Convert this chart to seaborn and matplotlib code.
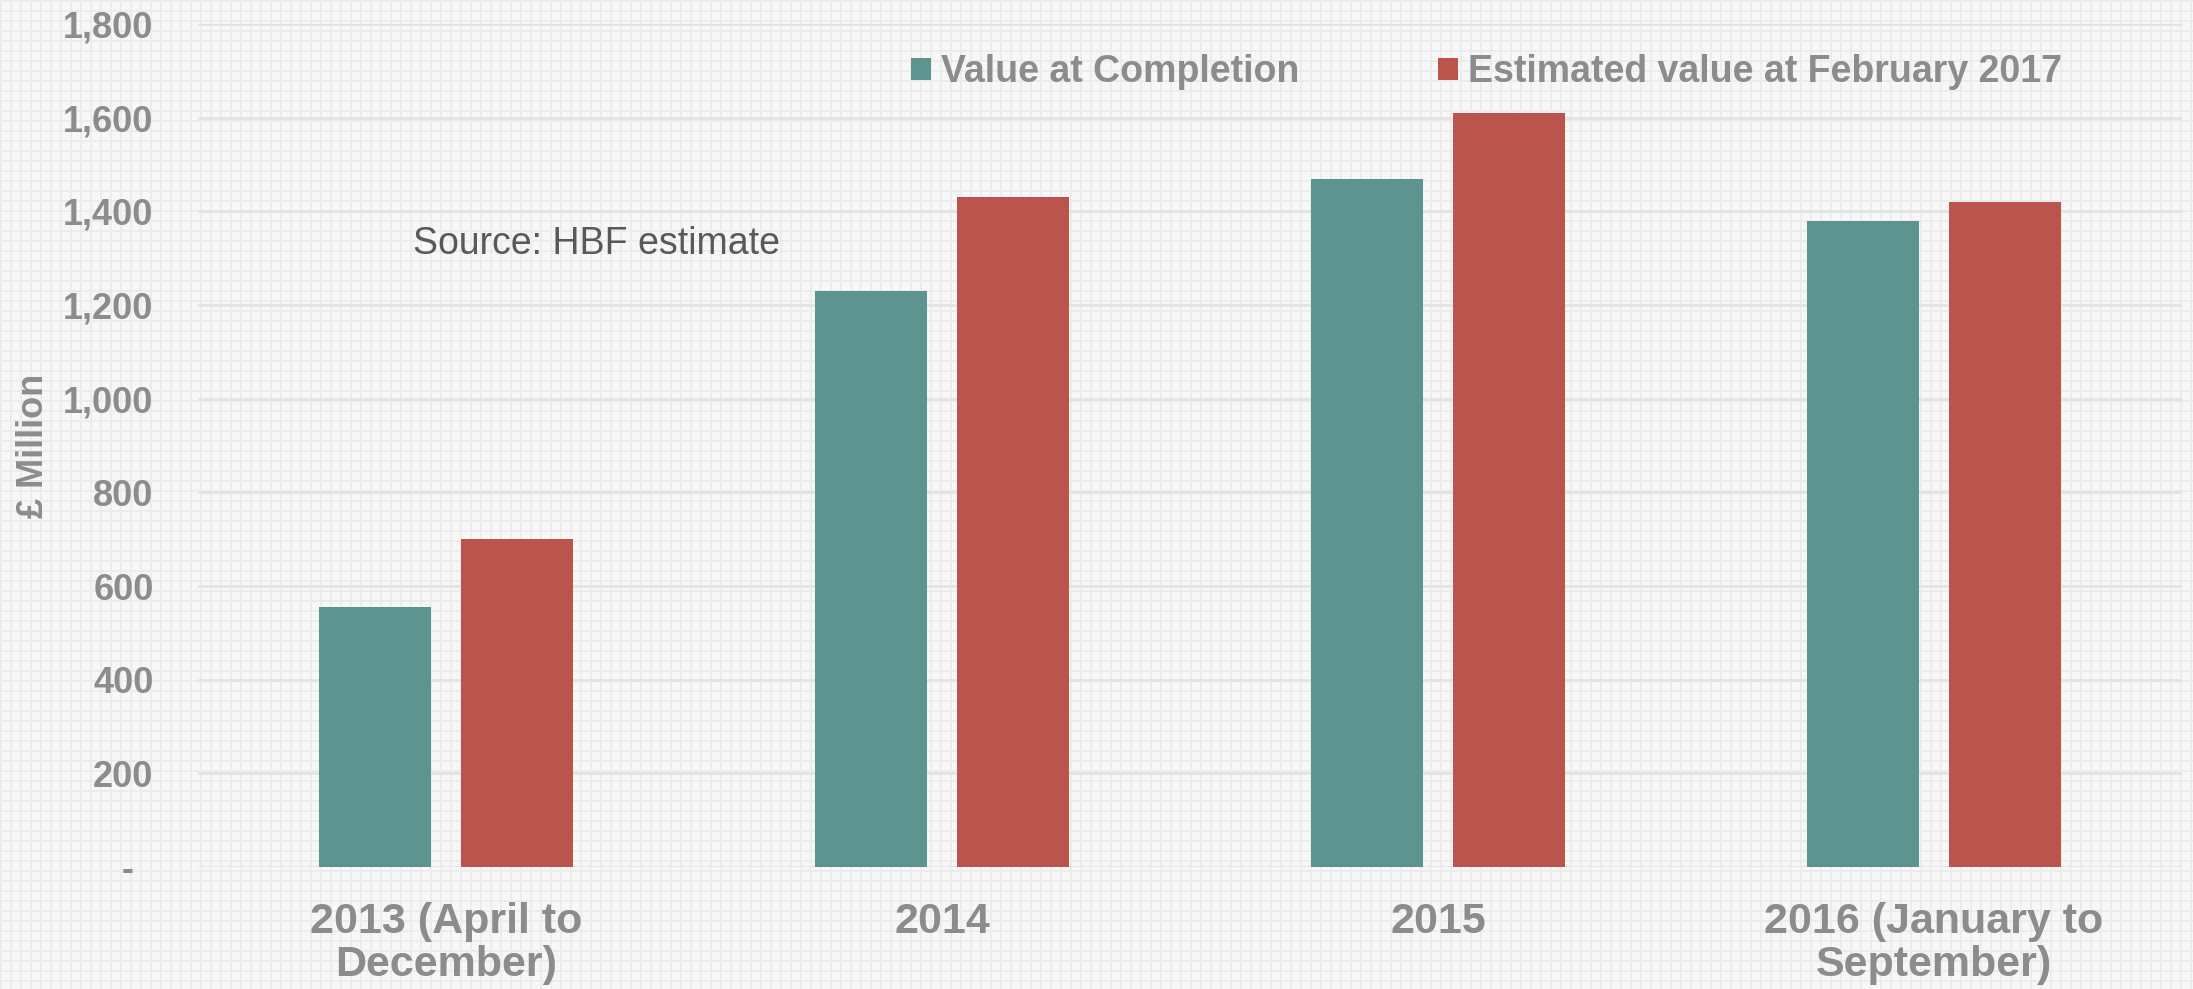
import numpy as np
import pandas as pd
import matplotlib
matplotlib.use("Agg")
import matplotlib.pyplot as plt
import seaborn as sns
from matplotlib.ticker import FixedLocator, FuncFormatter

# ---- data ----
categories = ["2013 (April to\nDecember)", "2014", "2015", "2016 (January to\nSeptember)"]
value_at_completion = [555, 1230, 1470, 1380]
estimated_value_feb2017 = [700, 1430, 1610, 1420]
series_names = ["Value at Completion", "Estimated value at February 2017"]
y_ticks = [0, 200, 400, 600, 800, 1000, 1200, 1400, 1600, 1800]

df = pd.DataFrame({
    "category": categories * 2,
    "series": [series_names[0]] * 4 + [series_names[1]] * 4,
    "value": value_at_completion + estimated_value_feb2017,
})

sns.set_theme(style="white")
plt.rcParams["font.family"] = ["Liberation Sans", "DejaVu Sans"]

W, H, DPI = 2193, 989, 100
fig = plt.figure(figsize=(W / DPI, H / DPI), dpi=DPI)

# textured background (light checker grid)
bg = np.ones((H, W, 3)) * (247 / 255)
line = 236 / 255
for k in range(0, W, 10):
    bg[:, k:k + 2, :] = line
for k in range(0, H, 10):
    bg[k:k + 2, :, :] = line
fig.figimage(bg, 0, 0, zorder=-10)

AX_L, AX_R, AX_T, AX_B = 198, 2182, 24, 867
ax = fig.add_axes([AX_L / W, 1 - AX_B / H, (AX_R - AX_L) / W, (AX_B - AX_T) / H])
ax.set_zorder(5)
ax.set_facecolor("none")

palette = {series_names[0]: "#5E9490", series_names[1]: "#BB544D"}
sns.barplot(data=df, x="category", y="value", hue="series", palette=palette,
            width=0.57, gap=0.207, ax=ax, saturation=1, linewidth=0, zorder=3)

ax.set_ylim(0, 1800)
ax.set_xlim(-0.5, 3.5)
ax.yaxis.set_major_locator(FixedLocator(y_ticks))
ax.yaxis.set_major_formatter(FuncFormatter(lambda v, p: "-  " if v == 0 else f"{int(v):,}"))
ax.grid(axis="y", color="#e3e3e3", linewidth=2, zorder=1)
ax.grid(axis="x", visible=False)
ax.set_axisbelow(True)
for s in ax.spines.values():
    s.set_visible(False)

tick_color = "#8c8c8c"
ax.tick_params(axis="y", length=0, pad=32, labelsize=26, labelcolor=tick_color)
ax.tick_params(axis="x", length=0, pad=25, labelsize=31, labelcolor=tick_color)
for lbl in ax.get_yticklabels():
    lbl.set_fontweight("bold")
for lbl in ax.get_xticklabels():
    lbl.set_fontweight("bold")
    lbl.set_linespacing(1.12)

ax.set_xlabel("")
ax.set_ylabel("£ Million", fontsize=26, fontweight="bold", color=tick_color)
ax.yaxis.set_label_coords(-0.074, 0.5)

ax.text(-0.066, 1330, "Source: HBF estimate", fontsize=27, color="#595959",
        va="center", ha="left", zorder=5)

handles, labels = ax.get_legend_handles_labels()
if ax.legend_:
    ax.legend_.remove()
leg = fig.legend(handles, labels, loc="center left",
                 bbox_to_anchor=(911 / W, 1 - 72 / H), ncol=2, frameon=False,
                 fontsize=27, handlelength=0.52, handleheight=0.52,
                 handletextpad=0.28, columnspacing=3.7, borderpad=0, borderaxespad=0)
leg.set_zorder(6)
for t in leg.get_texts():
    t.set_color(tick_color)
    t.set_fontweight("bold")

fig.savefig("out.png", dpi=DPI)
